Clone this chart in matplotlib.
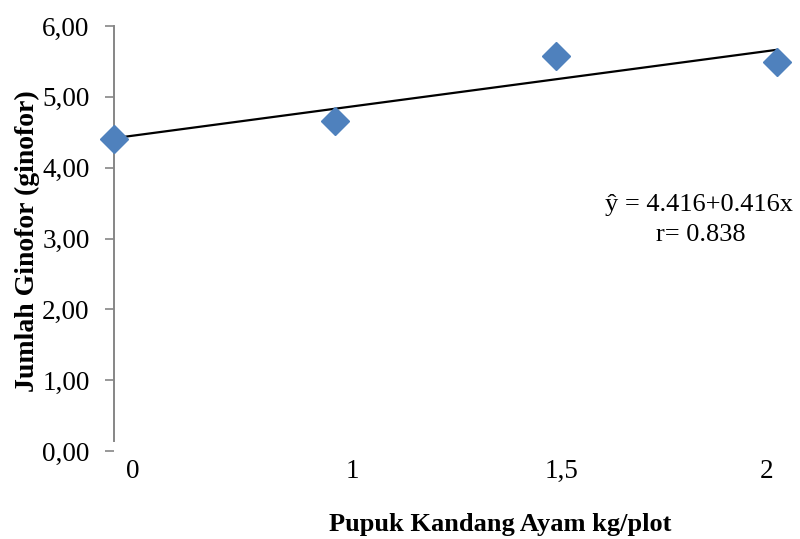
import matplotlib
matplotlib.use("Agg")
import matplotlib.pyplot as plt
import numpy as np

categories = ["0", "1", "1,5", "2"]
values = [4.40, 4.66, 5.57, 5.49]
intercept = 4.416
slope = 0.416
y_ticks = [0, 1, 2, 3, 4, 5, 6]
y_tick_labels = ["0,00", "1,00", "2,00", "3,00", "4,00", "5,00", "6,00"]

plt.rcParams['font.family'] = ['Liberation Serif', 'DejaVu Serif']

fig = plt.figure(figsize=(8, 5.39), dpi=100)
W, H = 800, 539
left, right, top, bottom = 114, 789, 26, 451
ax = fig.add_axes([left / W, 1 - bottom / H, (right - left) / W, (bottom - top) / H])

x = np.arange(len(categories))
ax.plot(x, values, linestyle='none', marker='D', markersize=14.5,
        color='#4F81BD', markeredgecolor='#4F81BD', zorder=3, clip_on=False)
xl = np.array([0, len(categories) - 1])
ax.plot(xl, intercept + slope * xl, color='black', linewidth=1.6, zorder=2,
        clip_on=False)

ax.set_xlim(0, 3.055)
ax.set_ylim(0, 6)
ax.set_yticks(y_ticks)
ax.set_yticklabels(y_tick_labels, fontsize=19.5)
ax.tick_params(axis='y', direction='out', length=6.5, width=1.2, color='#868686', pad=11)

label_offsets = [0.086, 0.077, 0.027, -0.045]
ax.set_xticks(x + np.array(label_offsets))
ax.set_xticklabels(categories, fontsize=19.5)
ax.tick_params(axis='x', length=0, pad=6)

for s in ['top', 'right', 'bottom']:
    ax.spines[s].set_visible(False)
ax.spines['left'].set_color('#868686')
ax.spines['left'].set_linewidth(1.4)
ax.spines['left'].set_bounds(0.14, 6)

ax.text(1.006, 0.579, "ŷ = 4.416+0.416x", transform=ax.transAxes, ha='right',
        va='center', fontsize=19)
ax.text(0.87, 0.508, "r= 0.838", transform=ax.transAxes, ha='center',
        va='center', fontsize=19)

fig.text(500 / W, 1 - 525 / H, "Pupuk Kandang Ayam kg/plot", ha='center',
         va='center', fontsize=19, fontweight='bold')
fig.text(27 / W, 1 - 241 / H, "Jumlah Ginofor (ginofor)", ha='center',
         va='center', rotation=90, fontsize=20, fontweight='bold')

fig.savefig("out.png", dpi=100)
